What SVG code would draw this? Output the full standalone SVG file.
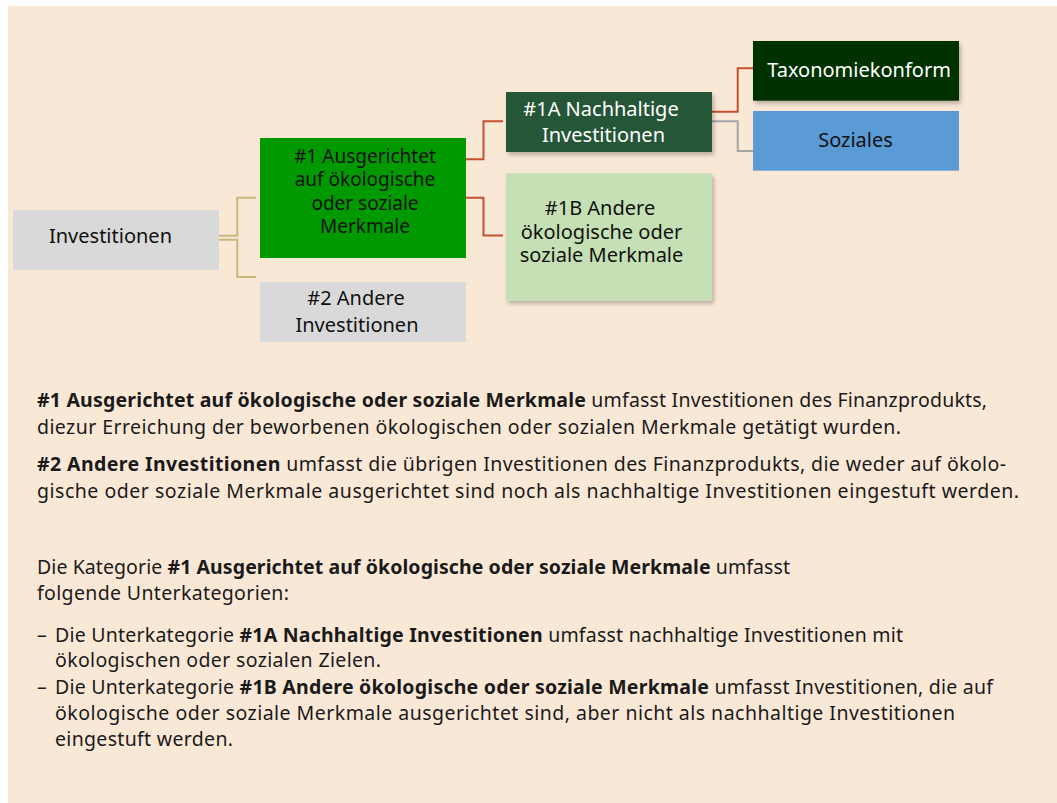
<svg xmlns="http://www.w3.org/2000/svg" width="1057" height="803" viewBox="0 0 1057 803">
<defs>
<style>
.nt{font-family:"Noto Sans","Open Sans",sans-serif;font-size:20px;text-anchor:middle;fill:#111}
.n1{font-size:19px}
.wt{fill:#ffffff}
.bt{font-family:"Noto Sans","Open Sans",sans-serif;font-size:19.5px;fill:#1a1a1a}
.b{font-weight:bold}
.cn{fill:none;stroke-width:2}
</style>
<filter id="sh" x="-10%" y="-10%" width="130%" height="140%">
<feDropShadow dx="2" dy="3" stdDeviation="2" flood-color="#000" flood-opacity="0.25"/>
</filter>
</defs>
<rect x="8" y="6" width="1049" height="797" fill="#fae8d7"/>
<g id="connectors">
<path class="cn" stroke="#c8b97a" d="M219,235.7 H237.3 V197.7 H256"/>
<path class="cn" stroke="#c8b97a" d="M219,239.7 H237.3 V277 H256"/>
<path class="cn" stroke="#c5502c" d="M466,159.3 H483.5 V121.3 H503"/>
<path class="cn" stroke="#c5502c" d="M466,197.7 H483.5 V235.5 H503"/>
<path class="cn" stroke="#c5502c" d="M712,111.7 H737.7 V68.3 H753"/>
<path class="cn" stroke="#a6a6a6" d="M712,121.3 H737.7 V151 H753"/>
</g>
<g id="n-investitionen">
<rect x="13" y="210" width="206" height="60" fill="#d9d9d9"/>
<text class="nt" x="110.5" y="243">Investitionen</text>
</g>
<g id="n-1">
<rect x="260" y="138" width="206" height="120" fill="#009900"/>
<text class="nt n1" x="365" y="163">#1 Ausgerichtet</text>
<text class="nt n1" x="365" y="186.3">auf ökologische</text>
<text class="nt n1" x="365" y="209.6">oder soziale</text>
<text class="nt n1" x="365" y="232.9">Merkmale</text>
</g>
<g id="n-2">
<rect x="260" y="282" width="206" height="60" fill="#d9d9d9"/>
<text class="nt" x="356" y="305">#2 Andere</text>
<text class="nt" x="357" y="331.7">Investitionen</text>
</g>
<g id="n-1a">
<rect x="506" y="92" width="206" height="60" fill="#265638" filter="url(#sh)"/>
<text class="nt wt" x="601" y="116">#1A Nachhaltige</text>
<text class="nt wt" x="603.5" y="141.7">Investitionen</text>
</g>
<g id="n-1b">
<rect x="506" y="173.3" width="206" height="127.4" fill="#c5e0b4" filter="url(#sh)"/>
<text class="nt" x="600" y="215">#1B Andere</text>
<text class="nt" x="601.5" y="238.5">ökologische oder</text>
<text class="nt" x="601.5" y="262.3">soziale Merkmale</text>
</g>
<g id="n-taxo">
<rect x="753" y="41" width="206" height="59.7" fill="#003300" filter="url(#sh)"/>
<text class="nt wt" x="859" y="77.3">Taxonomiekonform</text>
</g>
<g id="n-soziales">
<rect x="753" y="111" width="206" height="59.7" fill="#5b9bd5"/>
<text class="nt" x="855.5" y="147.3">Soziales</text>
</g>
<g id="legend">
<text class="bt" x="37" y="407" textLength="950"><tspan class="b">#1 Ausgerichtet auf ökologische oder soziale Merkmale</tspan> umfasst Investitionen des Finanzprodukts,</text>
<text class="bt" x="37" y="434" textLength="864">diezur Erreichung der beworbenen ökologischen oder sozialen Merkmale getätigt wurden.</text>
<text class="bt" x="37" y="471" textLength="969"><tspan class="b">#2 Andere Investitionen</tspan> umfasst die übrigen Investitionen des Finanzprodukts, die weder auf ökolo-</text>
<text class="bt" x="37" y="498" textLength="982">gische oder soziale Merkmale ausgerichtet sind noch als nachhaltige Investitionen eingestuft werden.</text>
<text class="bt" x="37" y="574" textLength="753">Die Kategorie <tspan class="b">#1 Ausgerichtet auf ökologische oder soziale Merkmale</tspan> umfasst</text>
<text class="bt" x="37" y="600" textLength="252">folgende Unterkategorien:</text>
<text class="bt" x="37" y="642">–</text>
<text class="bt" x="55" y="642" textLength="848">Die Unterkategorie <tspan class="b">#1A Nachhaltige Investitionen</tspan> umfasst nachhaltige Investitionen mit</text>
<text class="bt" x="55" y="667" textLength="326">ökologischen oder sozialen Zielen.</text>
<text class="bt" x="37" y="694">–</text>
<text class="bt" x="55" y="694" textLength="938">Die Unterkategorie <tspan class="b">#1B Andere ökologische oder soziale Merkmale</tspan> umfasst Investitionen, die auf</text>
<text class="bt" x="55" y="720" textLength="900">ökologische oder soziale Merkmale ausgerichtet sind, aber nicht als nachhaltige Investitionen</text>
<text class="bt" x="55" y="746" textLength="178">eingestuft werden.</text>
</g>
</svg>
